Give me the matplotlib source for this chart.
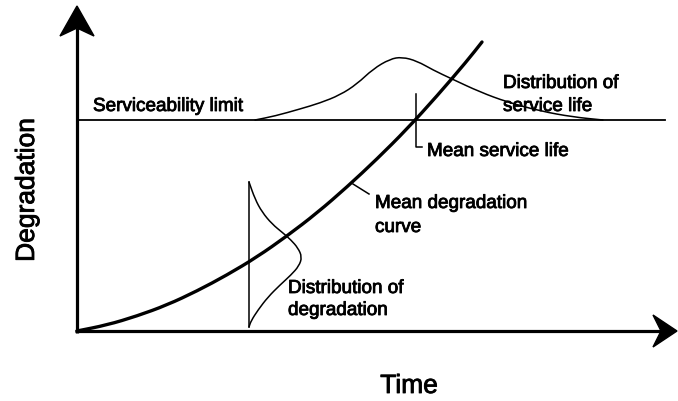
import matplotlib.pyplot as plt
import matplotlib.patheffects as pe
from matplotlib.patches import Polygon, PathPatch
from matplotlib.path import Path

plt.rcParams['font.family'] = ['Liberation Sans', 'DejaVu Sans']

# schematic values (arbitrary units)
curve_t = [0, 30, 60, 90, 120, 150, 180, 210, 240, 270, 300, 330, 360, 390, 405]
curve_d = [0, 6, 15, 26, 40, 56, 74, 95, 118, 144, 172, 202, 235, 270, 289]

limit_d = 211
limit_t = [0, 588]

# distribution of service life, drawn above the limit line
life_t = [178, 198, 223, 243, 263, 280, 296, 313, 325, 340, 356, 375, 403, 430, 463, 496, 526]
life_d = [211, 215, 222, 228, 236, 247, 262, 272, 274, 270, 261, 252, 239, 229, 220, 214, 211]

# distribution of degradation at one time
dist_at = 172
dist_d = [149, 132, 119, 107, 98, 91, 83, 74, 65, 56, 46, 34, 21, 10, 4]
dist_w = [0, 6, 13, 23, 34, 42, 49, 53, 50, 42, 31, 19, 9, 2, 0]

mean_life = 339
t_max, d_max = 600, 325


def smooth(ax, xs, ys, lw):
    # draw the points as a smooth line (quadratic segments through midpoints)
    pts = list(zip(xs, ys))
    verts = [pts[0], ((pts[0][0] + pts[1][0]) / 2, (pts[0][1] + pts[1][1]) / 2)]
    codes = [Path.MOVETO, Path.LINETO]
    for i in range(1, len(pts) - 1):
        a, b = pts[i], pts[i + 1]
        verts += [a, ((a[0] + b[0]) / 2, (a[1] + b[1]) / 2)]
        codes += [Path.CURVE3, Path.CURVE3]
    verts.append(pts[-1])
    codes.append(Path.LINETO)
    ax.add_patch(PathPatch(Path(verts, codes), fill=False, edgecolor='black', lw=lw,
                           capstyle='round'))


fig = plt.figure(figsize=(6.78, 4.02), dpi=100)
ax = fig.add_axes([0, 0, 1, 1])
ax.set_xlim(-77, 601)
ax.set_ylim(-70, 332)
ax.axis('off')

# axes with arrows
ax.plot([0, 0], [-2, d_max - 22], color='black', lw=2.3, solid_capstyle='butt')
ax.plot([-2, t_max - 16], [0, 0], color='black', lw=2.3, solid_capstyle='butt')
ax.add_patch(Polygon([[0, d_max], [17, d_max - 30], [0, d_max - 22], [-17, d_max - 30]],
                     closed=True, color='black'))
ax.add_patch(Polygon([[t_max, 0], [t_max - 24, 16], [t_max - 16, 0], [t_max - 24, -16]],
                     closed=True, color='black'))

# serviceability limit
ax.plot(limit_t, [limit_d, limit_d], color='black', lw=1.3)
smooth(ax, life_t, life_d, 1.1)

# mean degradation curve
smooth(ax, curve_t, curve_d, 2.4)

# degradation distribution
ax.plot([dist_at, dist_at], [dist_d[-1], dist_d[0]], color='black', lw=1.1)
smooth(ax, [dist_at + w for w in dist_w], dist_d, 1.1)

# mean service life marker
ax.plot([mean_life, mean_life, mean_life + 6], [limit_d + 26, limit_d - 27, limit_d - 27],
        color='black', lw=1.1)
# leader to the curve label
ax.plot([276, 292], [147, 137], color='black', lw=1.1)

fs = 13.6
bold = [pe.withStroke(linewidth=0.6, foreground='black')]
labels = [
    (16, 220, 'Serviceability limit'),
    (426, 243, 'Distribution of'),
    (426, 220, 'service life'),
    (350, 175, 'Mean service life'),
    (298, 123, 'Mean degradation'),
    (298, 99, 'curve'),
    (211, 38, 'Distribution of'),
    (211, 16, 'degradation'),
]
for x, y, s in labels:
    ax.text(x, y, s, fontsize=fs, va='baseline', path_effects=bold)

ax.text(332, -62, 'Time', fontsize=19, ha='center', va='baseline', path_effects=bold)
ax.text(-43, 141, 'Degradation', fontsize=19, rotation=90, rotation_mode='anchor',
        ha='center', va='baseline', path_effects=bold)

fig.savefig('out.png', dpi=100, facecolor='white')
